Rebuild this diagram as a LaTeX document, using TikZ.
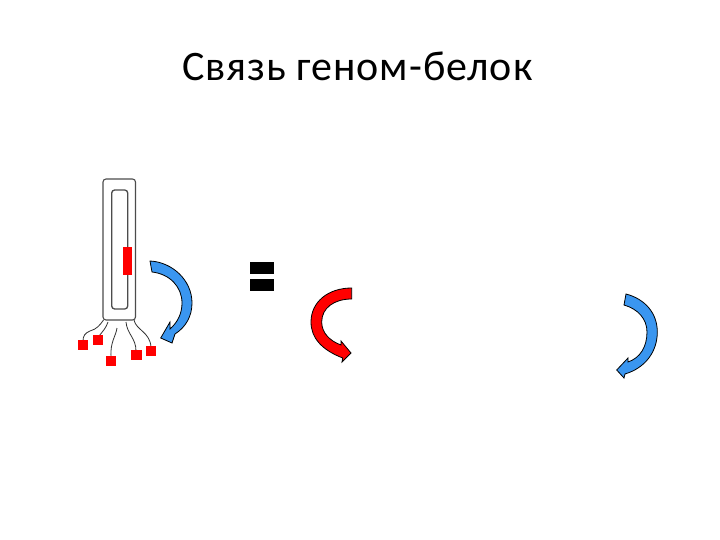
\documentclass[tikz,border=0pt]{standalone}
\usepackage{fontspec}
\setmainfont{Carlito}
\newfontfamily\titlefont[LetterSpace=2.3]{Carlito}
\tikzset{
  blk/.style={line width=0.8pt,draw=black,line join=miter},
  bluearrow/.style={blk,fill={rgb,255:red,58;green,150;blue,240}},
  redarrow/.style={blk,fill=red},
  fil/.style={draw=black!80,line width=0.8pt},
  cellwall/.style={draw=black!70,line width=1.1pt,rounded corners=3pt}
}
\begin{document}
\begin{tikzpicture}[x=1pt,y=-1pt]
\useasboundingbox (0,0) rectangle (720,540);
\fill[white] (0,0) rectangle (720,540);
\node[anchor=base,inner sep=0pt,font=\titlefont\fontsize{42}{46}\selectfont] (title) at (357.5,81) {Связь геном-белок};
% cell
\draw[cellwall] (103,179) rectangle (135.5,320);
\draw[cellwall,line width=1.3pt] (111.7,190) rectangle (127.7,309);
\fill[red] (123.3,247) rectangle (132,275);
% filaments
\draw[fil] (103.5,320) .. controls (100,325) and (97,329) .. (90,331) .. controls (85,333) and (83,336) .. (83,341);
\draw[fil] (108,322) .. controls (106,328) and (103,331) .. (99,336);
\draw[fil] (117,328) .. controls (116,336) and (110,342) .. (111,357);
\draw[fil] (126,322) .. controls (127,334) and (136,338) .. (136,351);
\draw[fil] (134,320) .. controls (136,330) and (150,332) .. (151,347);
% squares
\fill[red] (78.3,340) rectangle (88,350);
\fill[red] (93.3,335) rectangle (103.3,345);
\fill[red] (106,356) rectangle (116,366);
\fill[red] (131,350) rectangle (142,360);
\fill[red] (146,346) rectangle (156,356);
% blue arrow left
\draw[bluearrow] (150,261) .. controls (172,262) and (192,280) .. (192,303)
  .. controls (192,316) and (186,327) .. (175,334)
  -- (172,343) -- (160.7,338) -- (170,322) -- (170,329)
  .. controls (178,322) and (182,313) .. (182,303)
  .. controls (182,287) and (170,274) .. (152,272) -- cycle;
% equals
\fill[black] (249.7,262) rectangle (274,274);
\fill[black] (249.7,279) rectangle (274,290.7);
% red arrow
\draw[redarrow] (351.7,288) .. controls (328,288) and (311,302) .. (311,322)
  .. controls (311,338) and (322,350) .. (342.7,358)
  -- (342,362) -- (351,353) -- (341,341) -- (341,345)
  .. controls (330,341) and (321.7,333) .. (321.7,322)
  .. controls (321.7,308) and (334,299) .. (351.7,299) -- cycle;
% blue arrow right
\draw[bluearrow] (626,294) .. controls (645,299) and (657.3,313) .. (657.3,332)
  .. controls (657.3,352) and (645,368) .. (625,374)
  -- (624,378) -- (616.7,370) -- (628,358) -- (628,362)
  .. controls (640,358) and (647,347) .. (647,332)
  .. controls (647,319) and (638,309) .. (624,305) -- cycle;
\end{tikzpicture}
\end{document}
